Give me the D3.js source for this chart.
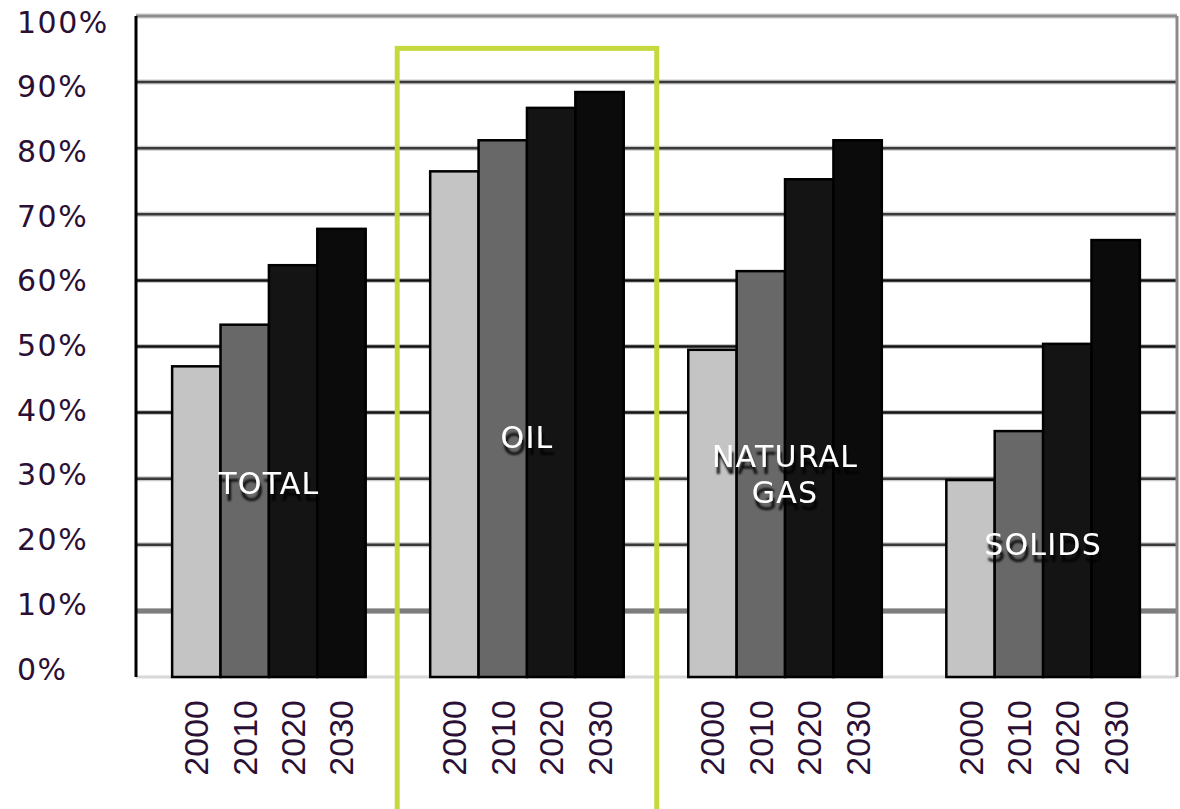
<!DOCTYPE html>
<html>
<head>
<meta charset="utf-8">
<script src="https://cdn.jsdelivr.net/npm/d3@7"></script>
<style>
  body { margin: 0; background: #fff; }
  svg { display: block; }
</style>
</head>
<body>
<div id="chart"></div>
<script>
// data
const categories = ["TOTAL", "OIL", "NATURAL GAS", "SOLIDS"];
const years = ["2000", "2010", "2020", "2030"];
const total = [0.47, 0.533, 0.623, 0.678];
const oil = [0.765, 0.812, 0.861, 0.885];
const naturalGas = [0.495, 0.614, 0.753, 0.812];
const solids = [0.298, 0.372, 0.504, 0.661];
const yTicks = [0, 0.1, 0.2, 0.3, 0.4, 0.5, 0.6, 0.7, 0.8, 0.9, 1];
const highlighted = "OIL";

const series = [total, oil, naturalGas, solids];

const width = 1180, height = 809;
const plot = {left: 136, right: 1177, top: 16, bottom: 677};

const svg = d3.select("#chart").append("svg")
    .attr("width", width)
    .attr("height", height);

// drop shadow for the category labels
svg.append("defs").append("filter")
    .attr("id", "shadow")
    .attr("x", "-20%").attr("y", "-50%")
    .attr("width", "140%").attr("height", "200%")
    .append("feDropShadow")
    .attr("dx", 2).attr("dy", 7)
    .attr("stdDeviation", 0.8)
    .attr("flood-color", "#000")
    .attr("flood-opacity", 0.9);

// scales
const y = d3.scaleLinear().domain([0, 1]).range([plot.bottom, plot.top]);
// tick labels sit on a slightly tighter spacing than the gridlines
const yLab = d3.scaleLinear().domain([0, 1]).range([669, 22]);

const x0 = d3.scaleBand().domain(categories)
    .range([plot.left, plot.right - 1])
    .paddingInner(0.25)
    .paddingOuter(0.14);

const x1 = d3.scaleBand().domain(years).range([0, x0.bandwidth()]);

const colors = d3.scaleOrdinal().domain(years)
    .range(["#c4c4c4", "#686868", "#141414", "#0b0b0b"]);

// gridlines
const gridColor = v => {
    if (v >= 0.999) return "#8a8a8a";
    if (Math.abs(v - 0.1) < 0.01) return "#7d7d7d";
    if (v > 0.35 && v < 0.65) return "#111";
    return "#3a3a3a";
};

const grid = svg.append("g").attr("class", "grid");
grid.selectAll(".halo")
    .data(yTicks.filter(v => v > 0))
    .enter().append("line")
    .attr("x1", plot.left).attr("x2", plot.right)
    .attr("y1", d => y(d)).attr("y2", d => y(d))
    .attr("stroke", "#c8c8c8")
    .attr("stroke-width", 5);
grid.selectAll(".line")
    .data(yTicks.filter(v => v > 0))
    .enter().append("line")
    .attr("x1", plot.left).attr("x2", plot.right)
    .attr("y1", d => y(d)).attr("y2", d => y(d))
    .attr("stroke", d => gridColor(d))
    .attr("stroke-width", d => Math.abs(d - 0.1) < 0.01 ? 5 : 2.5);

// base line and right edge
svg.append("line")
    .attr("x1", plot.left).attr("x2", plot.right)
    .attr("y1", y(0)).attr("y2", y(0))
    .attr("stroke", "#d8d8d8").attr("stroke-width", 3);
svg.append("line")
    .attr("x1", plot.right).attr("x2", plot.right)
    .attr("y1", y(1)).attr("y2", y(0))
    .attr("stroke", "#8a8a8a").attr("stroke-width", 3);

// bars
const groups = svg.selectAll(".group")
    .data(categories)
    .enter().append("g")
    .attr("class", "group")
    .attr("transform", d => `translate(${x0(d)},0)`);

groups.selectAll("rect")
    .data((d, i) => series[i].map((v, j) => ({year: years[j], value: v})))
    .enter().append("rect")
    .attr("x", d => x1(d.year))
    .attr("y", d => y(d.value))
    .attr("width", x1.bandwidth())
    .attr("height", d => y(0) - y(d.value))
    .attr("fill", d => colors(d.year))
    .attr("stroke", "#000")
    .attr("stroke-width", 2.5);

// left axis line
svg.append("line")
    .attr("x1", plot.left).attr("x2", plot.left)
    .attr("y1", y(1)).attr("y2", y(0))
    .attr("stroke", "#000").attr("stroke-width", 3);

// y tick labels
svg.append("g").selectAll("text")
    .data(yTicks)
    .enter().append("text")
    .attr("x", 17)
    .attr("y", d => yLab(d))
    .attr("dominant-baseline", "central")
    .attr("font-family", "DejaVu Sans, sans-serif")
    .attr("font-size", 30)
    .attr("letter-spacing", 1.5)
    .attr("fill", "#2b1036")
    .text(d => d3.format(".0%")(d));

// year labels, rotated
groups.selectAll(".year")
    .data(years)
    .enter().append("text")
    .attr("class", "year")
    .attr("transform", d => `translate(${x1(d) + x1.bandwidth() / 2},700) rotate(-90)`)
    .attr("text-anchor", "end")
    .attr("dominant-baseline", "central")
    .attr("font-family", "Liberation Sans, Arial, sans-serif")
    .attr("font-size", 34)
    .attr("fill", "#2b1036")
    .text(d => d);

// category labels: white text with a dark drop shadow
const labelAt = [0.292, 0.363, 0.334, 0.2];
const labelLines = categories.map(c => c === "NATURAL GAS" ? ["NATURAL", "GAS"] : [c]);

categories.forEach((c, i) => {
    const cx = x0(c) + x0.bandwidth() / 2;
    const cy = y(labelAt[i]);
    const t = svg.append("text")
        .attr("text-anchor", "middle")
        .attr("font-family", "DejaVu Sans, sans-serif")
        .attr("font-size", 30)
        .attr("letter-spacing", 1.2)
        .attr("fill", "#fff")
        .attr("filter", "url(#shadow)");
    labelLines[i].forEach((l, k) => {
        t.append("tspan")
            .attr("x", cx)
            .attr("y", cy + k * 36)
            .attr("dominant-baseline", "central")
            .text(l);
    });
});

// highlight box around OIL
svg.append("rect")
    .attr("x", x0(highlighted) - 33)
    .attr("y", y(0.951))
    .attr("width", x0.bandwidth() + 66)
    .attr("height", 820 - y(0.951))
    .attr("fill", "none")
    .attr("stroke", "#c5d93e")
    .attr("stroke-width", 5);
</script>
</body>
</html>
